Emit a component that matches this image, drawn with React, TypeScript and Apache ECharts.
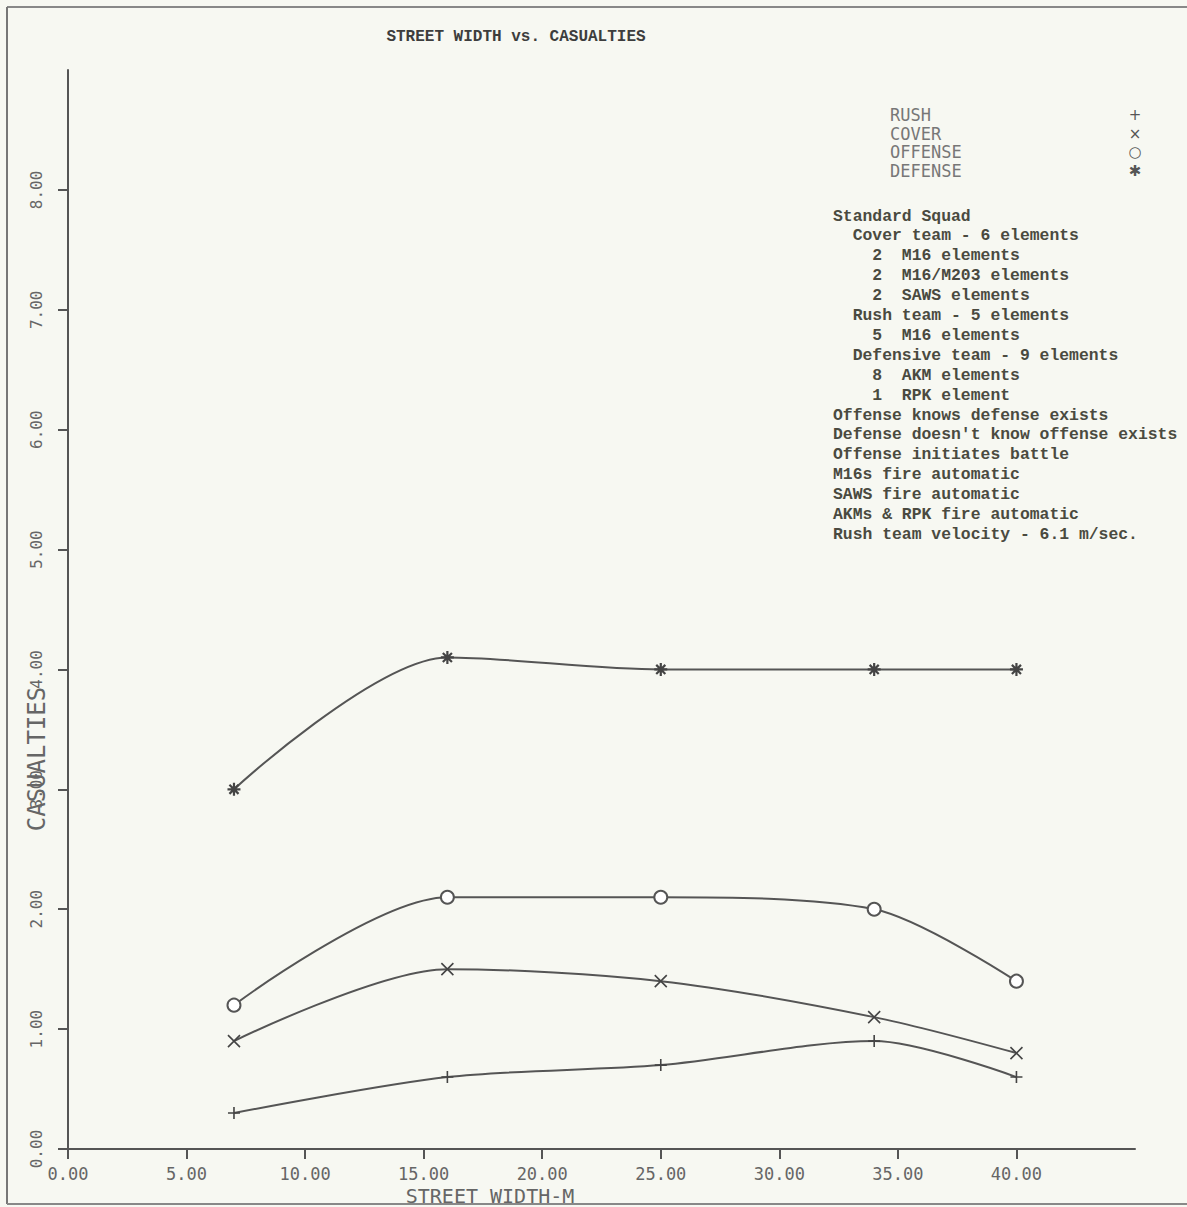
import React, { useEffect, useRef } from "react";
import * as echarts from "echarts";

const TITLE = "STREET WIDTH vs. CASUALTIES";
const X_NAME = "STREET WIDTH-M";
const Y_NAME = "CASUALTIES";
const X_VALUES = [7, 16, 25, 34, 40];
const RUSH = [0.3, 0.6, 0.7, 0.9, 0.6];
const COVER = [0.9, 1.5, 1.4, 1.1, 0.8];
const OFFENSE = [1.2, 2.1, 2.1, 2.0, 1.4];
const DEFENSE = [3.0, 4.1, 4.0, 4.0, 4.0];
const X_TICKS = [0, 5, 10, 15, 20, 25, 30, 35, 40];
const Y_TICKS = [0, 1, 2, 3, 4, 5, 6, 7, 8];
const LEGEND_NAMES = ["RUSH", "COVER", "OFFENSE", "DEFENSE"];
const LEGEND_GLYPHS = ["+", "×", "○", "✱"];
const NOTES = [
  "Standard Squad",
  "  Cover team - 6 elements",
  "    2  M16 elements",
  "    2  M16/M203 elements",
  "    2  SAWS elements",
  "  Rush team - 5 elements",
  "    5  M16 elements",
  "  Defensive team - 9 elements",
  "    8  AKM elements",
  "    1  RPK element",
  "Offense knows defense exists",
  "Defense doesn't know offense exists",
  "Offense initiates battle",
  "M16s fire automatic",
  "SAWS fire automatic",
  "AKMs & RPK fire automatic",
  "Rush team velocity - 6.1 m/sec.",
];

const INK = "#555";
const MONO = "'DejaVu Sans Mono', 'Liberation Mono', monospace";
const TYPE = "'Liberation Mono', 'DejaVu Sans Mono', monospace";

const SYMBOLS = [
  "path://M5,0L5,10M0,5L10,5",
  "path://M0,0L10,10M0,10L10,0",
  "emptyCircle",
  "path://M5,0L5,10M0,5L10,5M1.5,1.5L8.5,8.5M1.5,8.5L8.5,1.5",
];
const SYMBOL_SIZES = [12, 12, 13, 13];
const SERIES_VALUES = [RUSH, COVER, OFFENSE, DEFENSE];

export default function App() {
  const ref = useRef<HTMLDivElement>(null);
  useEffect(() => {
    if (!ref.current) return;
    const chart = echarts.init(ref.current, undefined, { renderer: "svg" });
    const series = LEGEND_NAMES.map((name, i) => ({
      name,
      type: "line",
      smooth: 0.3,
      data: X_VALUES.map((x, j) => [x, SERIES_VALUES[i][j]]),
      symbol: SYMBOLS[i],
      symbolSize: SYMBOL_SIZES[i],
      showAllSymbol: true,
      lineStyle: { color: INK, width: 2 },
      itemStyle: { color: INK, borderColor: "#444", borderWidth: i === 3 ? 2.2 : 1.6 },
      emphasis: { disabled: true },
    }));
    const graphic: any[] = [
      { type: "line", shape: { x1: 7, y1: 7, x2: 1187, y2: 7 }, style: { stroke: "#888", lineWidth: 2 } },
      { type: "line", shape: { x1: 7, y1: 7, x2: 7, y2: 1204 }, style: { stroke: "#777", lineWidth: 2 } },
      { type: "line", shape: { x1: 7, y1: 1204, x2: 1187, y2: 1204 }, style: { stroke: "#888", lineWidth: 2 } },
      {
        type: "text",
        x: 490,
        y: 1196,
        style: { text: X_NAME, font: `20px ${MONO}`, fill: "#666", align: "center", verticalAlign: "middle" },
      },
      {
        type: "text",
        x: 37,
        y: 759,
        rotation: Math.PI / 2,
        style: { text: Y_NAME, font: `24px ${MONO}`, fill: "#666", align: "center", verticalAlign: "middle" },
      },
    ];
    LEGEND_NAMES.forEach((name, i) => {
      graphic.push({
        type: "text",
        x: 890,
        y: 115 + i * 18.5,
        style: { text: name, font: `17px ${MONO}`, fill: "#777", align: "left", verticalAlign: "middle" },
      });
      graphic.push({
        type: "text",
        x: 1135,
        y: 115 + i * 18.5,
        style: { text: LEGEND_GLYPHS[i], font: `15px 'DejaVu Sans', sans-serif`, fill: "#555", align: "center", verticalAlign: "middle" },
      });
    });
    NOTES.forEach((line, i) => {
      graphic.push({
        type: "text",
        x: 833,
        y: 216 + i * 19.9,
        style: { text: line, font: `bold 16.4px ${TYPE}`, fill: "#4a4a40", align: "left", verticalAlign: "middle" },
      });
    });
    chart.setOption({
      animation: false,
      backgroundColor: "#f7f8f2",
      title: {
        text: TITLE,
        left: 511,
        top: 24,
        textAlign: "center",
        textStyle: { fontFamily: TYPE, fontSize: 16, fontWeight: "bold", color: "#3d3d3d" },
      },
      grid: { left: 68, right: 52, top: 70, bottom: 58 },
      xAxis: {
        type: "value",
        min: 0,
        max: 45,
        splitLine: { show: false },
        axisLine: { onZero: false, lineStyle: { color: INK, width: 2 } },
        axisTick: { show: true, customValues: X_TICKS, length: 10, lineStyle: { color: INK, width: 2 } },
        axisLabel: {
          customValues: X_TICKS,
          margin: 16,
          color: "#666",
          fontFamily: MONO,
          fontSize: 17,
          formatter: (v: number) => v.toFixed(2),
        },
      },
      yAxis: {
        type: "value",
        min: 0,
        max: 9,
        splitLine: { show: false },
        axisLine: { onZero: false, lineStyle: { color: INK, width: 2 } },
        axisTick: { show: true, customValues: Y_TICKS, length: 10, lineStyle: { color: INK, width: 2 } },
        axisLabel: {
          customValues: Y_TICKS,
          rotate: 90,
          margin: 24,
          color: "#666",
          fontFamily: MONO,
          fontSize: 16,
          formatter: (v: number) => v.toFixed(2),
        },
      },
      series,
      graphic,
    });
    return () => chart.dispose();
  }, []);
  return <div ref={ref} style={{ position: "fixed", left: 0, top: 0, width: 1187, height: 1207 }} />;
}
